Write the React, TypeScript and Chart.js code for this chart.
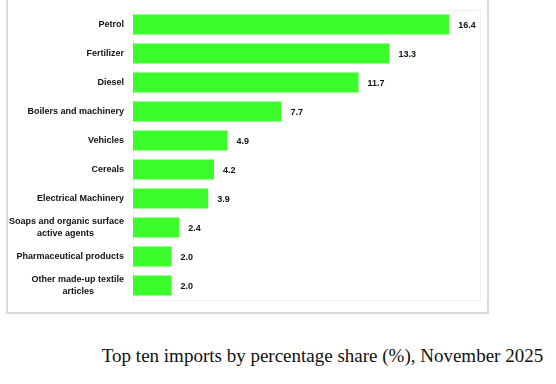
import React, { useEffect, useRef } from "react";
import { Chart, registerables } from "chart.js";

Chart.register(...registerables);

const categories: string[][] = [
  ["Petrol"],
  ["Fertilizer"],
  ["Diesel"],
  ["Boilers and machinery"],
  ["Vehicles"],
  ["Cereals"],
  ["Electrical Machinery"],
  ["Soaps and organic surface", "active agents"],
  ["Pharmaceutical products"],
  ["Other made-up textile", "articles"],
];

const values: number[] = [16.4, 13.3, 11.7, 7.7, 4.9, 4.2, 3.9, 2.4, 2.0, 2.0];

const caption = "Top ten imports by percentage share (%), November 2025";

const FAMILY = "'Liberation Sans', Arial, sans-serif";
const FONT_SIZE = 9;

function centerLines(lines: string[][]): (string | string[])[] {
  const c = document.createElement("canvas").getContext("2d")!;
  c.font = `bold ${FONT_SIZE}px ${FAMILY}`;
  const sp = c.measureText(" ").width || 2.5;
  return lines.map((ls) => {
    if (ls.length === 1) return ls[0];
    const ws = ls.map((l) => c.measureText(l).width);
    const maxW = Math.max(...ws);
    return ls.map((l, i) => {
      const n = Math.round((maxW - ws[i]) / 2 / sp);
      return l + " ".repeat(n);
    });
  });
}

const valueLabelPlugin = {
  id: "valueLabels",
  afterDatasetsDraw(chart: any) {
    const { ctx } = chart;
    const meta = chart.getDatasetMeta(0);
    ctx.save();
    ctx.font = `bold ${FONT_SIZE}px ${FAMILY}`;
    ctx.fillStyle = "#111111";
    ctx.textAlign = "left";
    ctx.textBaseline = "middle";
    meta.data.forEach((bar: any, i: number) => {
      ctx.fillText(values[i].toFixed(1), bar.x + 9, bar.y + 1);
    });
    ctx.restore();
  },
};

const plotBorderPlugin = {
  id: "plotBorder",
  beforeDatasetsDraw(chart: any) {
    const { ctx, chartArea } = chart;
    ctx.save();
    ctx.strokeStyle = "#efefef";
    ctx.lineWidth = 1;
    ctx.strokeRect(
      Math.round(chartArea.left) + 0.5,
      Math.round(chartArea.top) + 0.5,
      Math.round(chartArea.right - chartArea.left),
      Math.round(chartArea.bottom - chartArea.top)
    );
    ctx.restore();
  },
};

export default function App() {
  const ref = useRef<HTMLCanvasElement | null>(null);

  useEffect(() => {
    if (!ref.current) return;
    const chart = new Chart(ref.current, {
      type: "bar",
      data: {
        labels: centerLines(categories) as any,
        datasets: [
          {
            data: values,
            backgroundColor: "#3cfc2c",
            borderWidth: 0,
            barPercentage: 0.69,
            categoryPercentage: 1,
          },
        ],
      },
      options: {
        indexAxis: "y",
        animation: false,
        responsive: false,
        maintainAspectRatio: false,
        layout: { padding: { left: 0, right: 7, top: 10, bottom: 12 } },
        plugins: {
          legend: { display: false },
          tooltip: { enabled: false },
          title: { display: false },
        },
        scales: {
          x: { display: false, min: 0, max: 18 },
          y: {
            grid: { display: false, drawTicks: false },
            border: { display: true, color: "#bfbfbf", width: 1 },
            ticks: {
              padding: 9,
              color: "#111111",
              font: { family: FAMILY, size: FONT_SIZE, weight: "bold", lineHeight: 1.33 },
              autoSkip: false,
            },
            afterFit(scale: any) {
              scale.width = 125;
              scale.paddingTop = 0;
              scale.paddingBottom = 0;
            },
          },
        },
      } as any,
      plugins: [plotBorderPlugin, valueLabelPlugin],
    });
    return () => chart.destroy();
  }, []);

  return (
    <div style={{ position: "absolute", left: 0, top: 0, width: 556, height: 384, background: "#fff", overflow: "hidden" }}>
      <div
        style={{
          position: "absolute",
          left: 6,
          top: -2,
          width: 483,
          height: 316,
          boxSizing: "border-box",
          border: "2px solid #dadada",
        }}
      />
      <canvas
        ref={ref}
        width={479}
        height={312}
        style={{ position: "absolute", left: 8, top: 0, width: 479, height: 312 }}
      />
      <div
        style={{
          position: "absolute",
          left: 0,
          top: 345,
          width: 645,
          textAlign: "center",
          fontFamily: "'Liberation Serif', 'DejaVu Serif', serif",
          fontSize: 19,
          lineHeight: "22px",
          color: "#111",
          whiteSpace: "nowrap",
        }}
      >
        {caption}
      </div>
    </div>
  );
}
